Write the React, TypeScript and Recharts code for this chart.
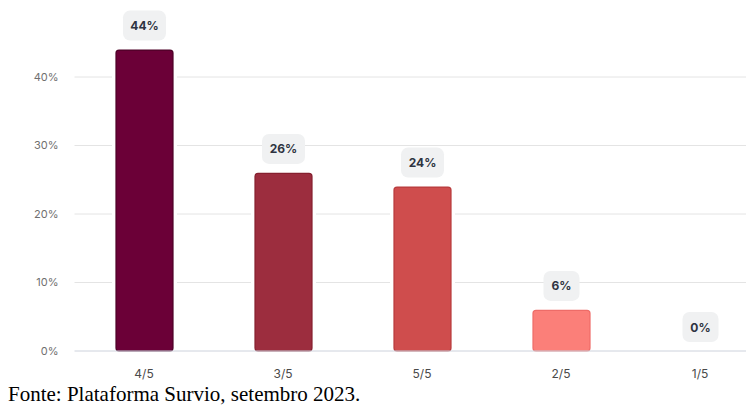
import React from "react";
import { BarChart, Bar, XAxis, YAxis, CartesianGrid, LabelList, Cell } from "recharts";

const categories = ["4/5", "3/5", "5/5", "2/5", "1/5"];
const values = [44, 26, 24, 6, 0];
const fills = ["#6b0037", "#9c2d3e", "#cf4d4d", "#fb7f79", "#fb7f79"];
const strokes = ["#4d0027", "#86202f", "#b83b3d", "#ee6c68", "#ee6c68"];
const yTicks = [0, 10, 20, 30, 40];
const gridValues = [10, 20, 30, 40];

const data = categories.map((c, i) => ({ name: c, value: values[i] }));

const BarShape = (props: any) => {
  const { x, y, width, height, index } = props;
  if (!height || height <= 0) return null;
  const r = 3;
  return (
    <g>
      <rect x={x - 3.5} y={y - 3.5} width={width + 7} height={height + 3.5} fill="#ffffff" />
      <rect
        x={x + 0.5}
        y={y + 0.5}
        width={width - 1}
        height={height - 0.5}
        rx={r}
        ry={r}
        fill={fills[index]}
        stroke={strokes[index]}
        strokeWidth={1.2}
      />
    </g>
  );
};

const Pill = (props: any) => {
  const { x, y, width, value } = props;
  const text = `${value}%`;
  const w = text.length * 7 + 22;
  const h = 30;
  const cx = x + width / 2;
  const bottom = y - 9;
  return (
    <g>
      <rect x={cx - w / 2} y={bottom - h} width={w} height={h} rx={7} ry={7} fill="#f0f1f2" />
      <text
        x={cx}
        y={bottom - h / 2}
        textAnchor="middle"
        dominantBaseline="central"
        fontFamily="Inter, 'Open Sans', sans-serif"
        fontWeight={700}
        fontSize={12}
        fill="#2e3441"
      >
        {text}
      </text>
    </g>
  );
};

export default function App() {
  return (
    <div style={{ position: "absolute", left: 0, top: 0, width: 746, height: 405, overflow: "hidden", background: "#fff" }}>
      <BarChart
        width={780}
        height={405}
        data={data}
        margin={{ top: 8.5, right: 10.5, bottom: 24, left: 0 }}
      >
        <CartesianGrid
          vertical={false}
          stroke="#e4e4e4"
          strokeWidth={1}
          horizontalValues={gridValues}
        />
        <XAxis
          dataKey="name"
          height={30}
          tickLine={false}
          axisLine={{ stroke: "#cdd2dc" }}
          tickSize={6}
          tickMargin={12}
          tick={{ fontFamily: "Inter, 'Open Sans', sans-serif", fontSize: 12, fill: "#4a4a4a" }}
        />
        <YAxis
          width={74.5}
          domain={[0, 50]}
          ticks={yTicks}
          tickFormatter={(v: number) => `${v}%`}
          tickLine={false}
          axisLine={false}
          tickSize={6}
          tickMargin={10}
          tick={{ fontFamily: "Inter, 'Open Sans', sans-serif", fontSize: 11, fill: "#6f6f6f" }}
        />
        <Bar dataKey="value" barSize={58} isAnimationActive={false} shape={BarShape} minPointSize={0}>
          {data.map((d, i) => (
            <Cell key={d.name} fill={fills[i]} />
          ))}
          <LabelList dataKey="value" content={Pill} />
        </Bar>
      </BarChart>
      <div
        style={{
          position: "absolute",
          left: 8,
          top: 384,
          fontFamily: "'Liberation Serif', 'Times New Roman', serif",
          fontSize: 21,
          lineHeight: "21px",
          color: "#000",
          whiteSpace: "nowrap",
        }}
      >
        Fonte: Plataforma Survio, setembro 2023.
      </div>
    </div>
  );
}
